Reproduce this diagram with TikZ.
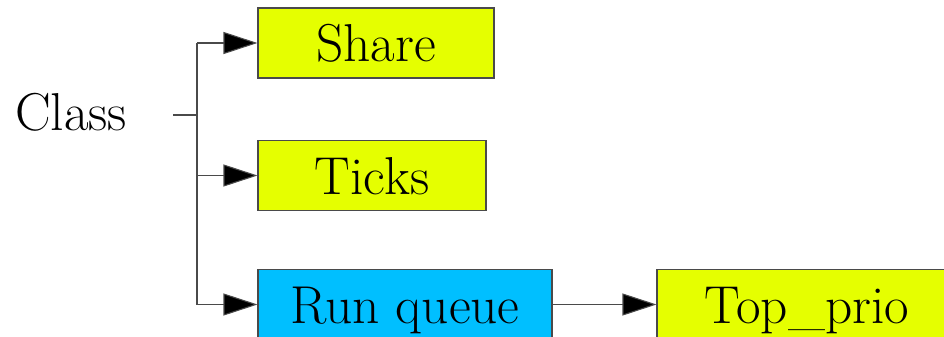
\documentclass[tikz,border=0pt]{standalone}
\usepackage{fontspec}
\usetikzlibrary{arrows.meta}
\definecolor{leafyellow}{HTML}{E5FF00}
\definecolor{queueblue}{HTML}{00BFFF}
\definecolor{edgegray}{HTML}{4A4A4A}
\begin{document}
\begin{tikzpicture}[x=0.75pt,y=-0.75pt,
  labeltext/.style={font=\fontsize{40}{44}\selectfont},
  field/.style={labeltext, draw=edgegray, line width=0.8pt, rectangle, inner sep=0pt,
    text height=28pt, text depth=0pt},
  link/.style={draw=edgegray, line width=0.8pt},
  feed/.style={link, -{Triangle[length=25.5pt,width=16.5pt,fill=black]}}]
  \useasboundingbox (0,0) rectangle (944,336);
  % root label
  \node[labeltext, anchor=base] (class) at (71,130) {Class};
  % member boxes
  \node[field, fill=leafyellow, minimum width=177pt, minimum height=52.5pt] (share) at (376,43) {Share};
  \node[field, fill=leafyellow, minimum width=171pt, minimum height=52pt] (ticks) at (372,175.5) {Ticks};
  \node[field, fill=queueblue, minimum width=220.5pt, minimum height=52.5pt] (runq) at (405,304.5) {Run queue};
  \node[field, fill=leafyellow, minimum width=225pt, minimum height=52.5pt] (top) at (807,304.5) {Top\_prio};
  % branch skeleton
  \coordinate (stub) at (173,115);
  \coordinate (fork) at (197,115);
  \coordinate (forktop) at (197,43);
  \coordinate (forkbot) at (197,304.5);
  \draw[link] (stub) -- (fork);
  \draw[link] (forktop) -- (forkbot);
  % arrows into the boxes
  \draw[feed] (forktop) -- (share.west);
  \draw[feed] (forktop |- ticks.west) -- (ticks.west);
  \draw[feed] (forkbot) -- (runq.west);
  \draw[feed] (runq.east) -- (top.west);
\end{tikzpicture}
\end{document}
